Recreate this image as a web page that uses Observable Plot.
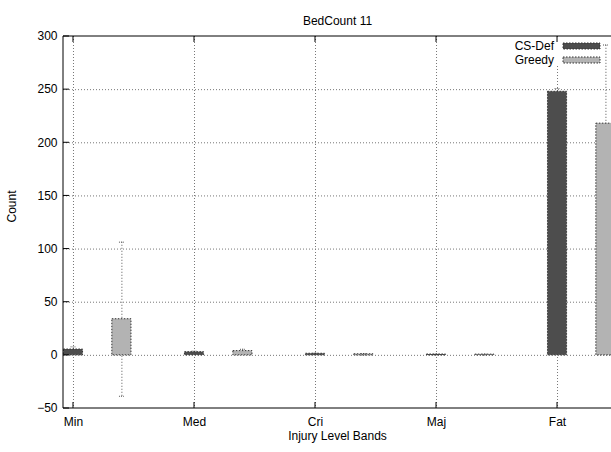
<!DOCTYPE html>
<html>
<head>
<meta charset="utf-8">
<script src="https://cdn.jsdelivr.net/npm/d3@7"></script>
<script src="https://cdn.jsdelivr.net/npm/@observablehq/plot@0.6"></script>
<style>
  body { margin: 0; background: #fff; }
  svg { display: block; }
</style>
</head>
<body>
<div id="chart"></div>
<script>
// Injury level bands and the two allocation strategies
const bands = ["Min", "Med", "Cri", "Maj", "Fat"];
const seriesNames = ["CS-Def", "Greedy"];
const csDef = [5.5, 3, 1.5, 0.8, 248];
const csDefErr = [2.5, 1, 0.5, 0.3, 3];
const greedy = [34, 4, 1, 0.7, 218];
const greedyErr = [72.5, 1.7, 0.6, 0.3, 74];
const yTicks = [-50, 0, 50, 100, 150, 200, 250, 300];
const xTicks = [0, 1, 2, 3, 4];

const colors = {"CS-Def": "#4d4d4d", "Greedy": "#b3b3b3"};
const offset = 0.4;   // Greedy bar sits to the right of its band
const half = 0.079;   // half bar width, in band units
const font = "'Liberation Sans', Arial, Helvetica, sans-serif";

const rows = bands.flatMap((band, i) => [
  {band, series: "CS-Def", pos: i, value: csDef[i], err: csDefErr[i]},
  {band, series: "Greedy", pos: i + offset, value: greedy[i], err: greedyErr[i]}
]);

// Border, inward mirrored ticks and key box
function frameAndKey(index, scales, values, dims) {
  const {x, y} = scales;
  const L = dims.marginLeft, T = dims.marginTop;
  const R = dims.width - dims.marginRight, B = dims.height - dims.marginBottom;
  const g = d3.create("svg:g").attr("fill", "none").attr("stroke", "#000");
  const tick = 6;

  // key box (opaque, hides the grid behind it)
  const k = g.append("g");
  k.append("rect").attr("x", R - 102).attr("y", T + 2).attr("width", 93).attr("height", 26)
    .attr("fill", "#fff").attr("stroke", "none");
  seriesNames.forEach((name, j) => {
    const cy = T + 10 + j * 14;
    k.append("text").attr("x", R - 57).attr("y", cy).attr("dy", "0.35em")
      .attr("text-anchor", "end").attr("fill", "#000").attr("stroke", "none")
      .attr("font-size", 12).attr("font-family", font).text(name);
    k.append("rect").attr("x", R - 48).attr("y", cy - 3).attr("width", 37).attr("height", 6)
      .attr("fill", colors[name]).attr("stroke", "#333").attr("stroke-dasharray", "1.5,1.5");
  });

  // frame lines (left, top, bottom)
  g.append("line").attr("x1", L).attr("x2", L).attr("y1", T).attr("y2", B);
  g.append("line").attr("x1", L).attr("x2", R).attr("y1", T).attr("y2", T);
  g.append("line").attr("x1", L).attr("x2", R).attr("y1", B).attr("y2", B);

  for (const v of yTicks) {
    const py = y(v);
    g.append("line").attr("x1", L).attr("x2", L + tick).attr("y1", py).attr("y2", py);
  }
  for (const v of xTicks) {
    const px = x(v);
    g.append("line").attr("x1", px).attr("x2", px).attr("y1", B).attr("y2", B - tick);
    g.append("line").attr("x1", px).attr("x2", px).attr("y1", T).attr("y2", T + tick);
  }
  return g.node();
}

const chart = Plot.plot({
  width: 611,
  height: 452,
  marginTop: 36,
  marginRight: 0,
  marginBottom: 44,
  marginLeft: 63,
  style: {fontSize: "12px", fontFamily: font, color: "#000", background: "#fff"},
  x: {
    type: "linear",
    domain: [-0.0826, 4.446],
    ticks: xTicks,
    tickFormat: i => bands[i],
    tickSize: 0,
    tickPadding: 9,
    label: null
  },
  y: {
    domain: [-50, 300],
    ticks: yTicks,
    tickSize: 0,
    tickPadding: 6,
    label: null
  },
  marks: [
    // dotted grid
    Plot.ruleY(yTicks.filter(v => v > -50 && v < 300), {stroke: "#777", strokeDasharray: "1,2"}),
    Plot.ruleX(xTicks, {stroke: "#777", strokeDasharray: "1,2"}),
    // error bars with small caps (drawn beneath the bars)
    Plot.ruleX(rows, {x: "pos", y1: d => d.value - d.err, y2: d => d.value + d.err,
      stroke: "#555", strokeDasharray: "1,2"}),
    Plot.ruleY(rows, {y: d => d.value + d.err, x1: d => d.pos - 0.02, x2: d => d.pos + 0.02,
      stroke: "#555", strokeDasharray: "1,1"}),
    Plot.ruleY(rows, {y: d => d.value - d.err, x1: d => d.pos - 0.02, x2: d => d.pos + 0.02,
      stroke: "#555", strokeDasharray: "1,1"}),
    // bars
    Plot.rect(rows, {
      x1: d => d.pos - half, x2: d => d.pos + half,
      y1: 0, y2: "value",
      fill: d => colors[d.series],
      stroke: "#333", strokeDasharray: "1.5,1.5", strokeWidth: 1
    }),
    frameAndKey,
    // titles
    Plot.text(["BedCount 11"], {frameAnchor: "top", dy: -20, fontSize: 12, fill: "#000"}),
    Plot.text(["Injury Level Bands"], {frameAnchor: "bottom", dy: 31, fontSize: 12, fill: "#000"}),
    Plot.text(["Count"], {frameAnchor: "left", dx: -51, rotate: -90, fontSize: 12, fill: "#000"})
  ]
});

document.getElementById("chart").appendChild(chart);
</script>
</body>
</html>
